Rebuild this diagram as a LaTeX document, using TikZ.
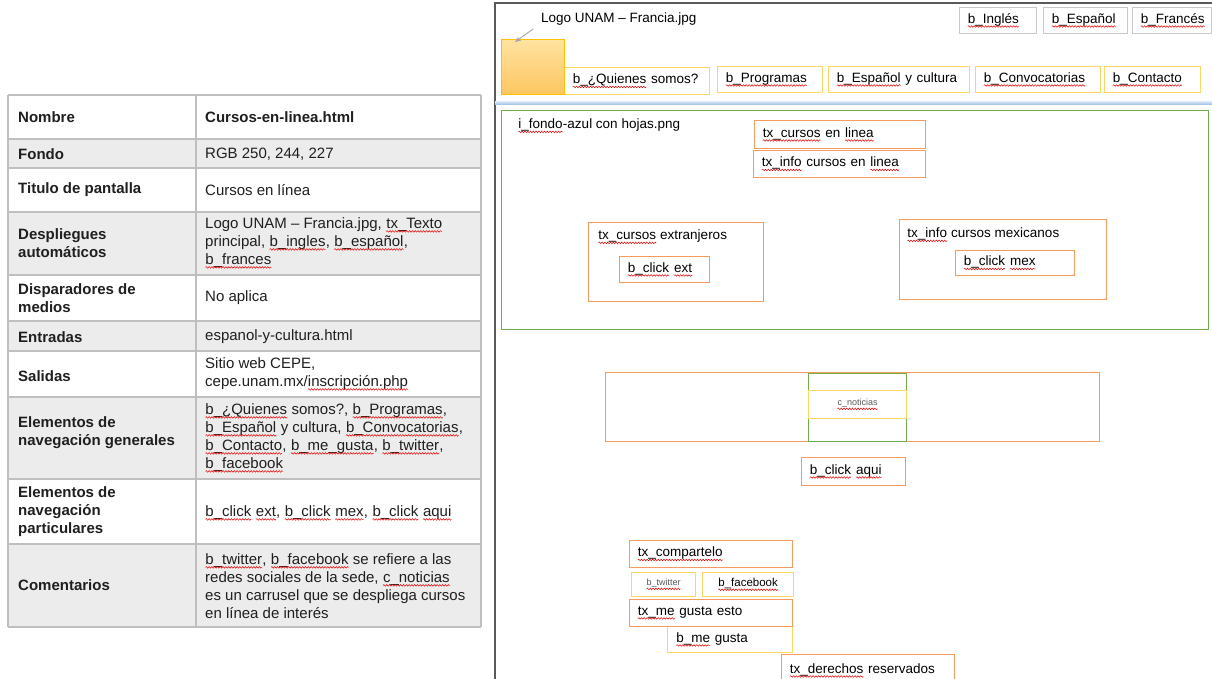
\documentclass[tikz,border=0pt]{standalone}
\usepackage{fontspec}
\setmainfont{Liberation Sans}
\usetikzlibrary{arrows.meta,calc,decorations.pathmorphing}
\newcommand\sq[1]{\tikz[baseline=(sqw.base)]{\node[draw=none, fill=none, text width={}, minimum width=0pt, minimum height=0pt, inner sep=0pt, outer sep=0pt, anchor=base west] (sqw) at (0,0) {#1};\draw[red!90!black, line width=0.5pt, decorate, decoration={snake, amplitude=0.8pt, segment length=2.8pt}] ([yshift=-3pt]sqw.base west) -- ([yshift=-3pt]sqw.base east);}}
\definecolor{boxgray}{RGB}{200,200,200}
\definecolor{boxyel}{RGB}{255,214,100}
\definecolor{boxor}{RGB}{245,155,95}
\definecolor{grn}{RGB}{112,173,71}
\definecolor{bluel}{RGB}{157,195,230}
\definecolor{framec}{RGB}{89,89,89}
\definecolor{tfill}{RGB}{236,236,236}
\definecolor{tline}{RGB}{191,191,191}
\definecolor{logotop}{RGB}{255,226,160}
\definecolor{logobot}{RGB}{252,198,96}
\definecolor{logoedge}{RGB}{255,192,0}
\tikzset{
 tbl/.style={font={\fontsize{15}{18}\selectfont}, text=black!88, align=left, anchor=west, inner sep=0pt},
 tblh/.style={tbl, font={\fontsize{15}{18}\selectfont\bfseries}},
 box/.style={anchor=north west, inner ysep=0pt, inner xsep=8pt, align=left, font={\fontsize{13.5}{16}\selectfont}, line width=1.2pt},
 gbox/.style={box, draw=boxgray},
 ybox/.style={box, draw=boxyel},
 obox/.style={box, draw=boxor},
 grbox/.style={box, draw=grn},
 lbl/.style={anchor=west, inner sep=0pt, font={\fontsize{13.5}{16}\selectfont}},
 tinyt/.style={font={\fontsize{9}{10}\selectfont}, text=black!65, align=center},
}
\begin{document}
\begin{tikzpicture}[x=1pt,y=-1pt]
\useasboundingbox (0,0) rectangle (1212,679);
\fill[white] (0,0) rectangle (1212,679);
% ---------- table ----------
\foreach \ya/\yb in {139/168,212/275,321/351,397/479,544/627}
  \fill[tfill] (8,\ya) rectangle (481,\yb);
\foreach \yy in {95,139,168,212,275,321,351,397,479,544,627}
  \draw[tline, line width=1.6pt] (8,\yy) -- (481,\yy);
\foreach \xx in {8,196,481}
  \draw[tline, line width=1.6pt] (\xx,95) -- (\xx,627);
\node[tblh] (l1) at (18,117) {Nombre};
\node[tblh] (r1) at (205,117) {Cursos-en-linea.html};
\node[tblh] (l2) at (18,154) {Fondo};
\node[tbl] (r2) at (205,154) {RGB 250, 244, 227};
\node[tblh] (l3) at (18,190) {Titulo de pantalla};
\node[tbl] (r3) at (205,190) {Cursos en línea};
\node[tblh] (l4) at (18,243) {Despliegues\\automáticos};
\node[tbl] (r4) at (205,243) {Logo UNAM – Francia.jpg, \sq{tx\_Texto}\\principal, \sq{b\_ingles}, \sq{b\_español},\\\sq{b\_frances}};
\node[tblh] (l5) at (18,298) {Disparadores de\\medios};
\node[tbl] (r5) at (205,298) {No aplica};
\node[tblh] (l6) at (18,337) {Entradas};
\node[tbl] (r6) at (205,337) {espanol-y-cultura.html};
\node[tblh] (l7) at (18,376) {Salidas};
\node[tbl] (r7) at (205,374) {Sitio web CEPE,\\cepe.unam.mx/\sq{inscripción.php}};
\node[tblh] (l8) at (18,433) {Elementos de\\navegación generales};
\node[tbl] (r8) at (205,438) {\sq{b\_¿Quienes} somos?, \sq{b\_Programas},\\\sq{b\_Español} y cultura, \sq{b\_Convocatorias},\\\sq{b\_Contacto}, \sq{b\_me\_gusta}, \sq{b\_twitter},\\\sq{b\_facebook}};
\node[tblh] (l9) at (18,512) {Elementos de\\navegación\\particulares};
\node[tbl] (r9) at (205,513) {\sq{b\_click} \sq{ext}, \sq{b\_click} \sq{mex}, \sq{b\_click} \sq{aqui}};
\node[tblh] (l10) at (18,585) {Comentarios};
\node[tbl] (r10) at (205,586) {\sq{b\_twitter}, \sq{b\_facebook} se refiere a las\\redes sociales de la sede, \sq{c\_noticias}\\es un carrusel que se despliega cursos\\en línea de interés};
% ---------- right panel ----------
\draw[framec, line width=1.3pt] (495,750) -- (495,3) -- (1260,3);
\shade[top color=bluel!40, bottom color=bluel] (495,101.5) rectangle (1212,104.5);
% header
\node[gbox, text width=61pt, minimum height=26pt] (bingles) at (959,7) {\sq{b\_Inglés}};
\node[gbox, text width=68pt, minimum height=26pt] (bespanol) at (1043,7) {\sq{b\_Español}};
\node[gbox, text width=63pt, minimum height=26pt] (bfrances) at (1132,7) {\sq{b\_Francés}};
\node[lbl] (logolbl) at (541,19) {Logo UNAM – Francia.jpg};
\node[ybox, text width=129pt, minimum height=27pt] (bquienes) at (564,67) {\sq{b\_¿Quienes} somos?};
\node[anchor=north west, minimum width=63pt, minimum height=55pt, inner sep=0pt, draw=logoedge, line width=1.2pt, top color=logotop, bottom color=logobot] (logo) at (501,39) {};
\coordinate (arrs) at (533,29);
\draw[black!35, line width=0.9pt, -{Stealth[length=6pt,width=5pt]}] (arrs) -- ($(logo.north west)+(14,3)$);
\node[ybox, text width=89pt, minimum height=26pt] (bprog) at (717,66) {\sq{b\_Programas}};
\node[ybox, text width=125pt, minimum height=26pt] (besp) at (828,66) {\sq{b\_Español} y cultura};
\node[ybox, text width=109pt, minimum height=26pt] (bconv) at (975,66) {\sq{b\_Convocatorias}};
\node[ybox, text width=80pt, minimum height=26pt] (bcont) at (1104,66) {\sq{b\_Contacto}};
% green area
\node[grbox, minimum width=707pt, minimum height=219pt, inner sep=0pt] (area) at (501,110) {};
\node[lbl] (ifondo) at (518,126) {\sq{i\_fondo}-azul con hojas.png};
\node[obox, text width=155pt, minimum height=28pt] (txcursos) at (754,120) {\sq{tx\_cursos} en \sq{linea}};
\node[obox, text width=156pt, minimum height=27pt] (txinfo) at (753,150) {\sq{tx\_info} cursos en \sq{linea}};
\node[obox, minimum width=175pt, minimum height=79pt, inner sep=0pt] (txext) at (588,222) {};
\node[lbl] (txextl) at (598,237) {\sq{tx\_cursos} extranjeros};
\node[obox, text width=74pt, minimum height=26pt] (bclickext) at (619,256) {\sq{b\_click} \sq{ext}};
\node[obox, minimum width=207pt, minimum height=80pt, inner sep=0pt] (txmex) at (899,219) {};
\node[lbl] (txmexl) at (907,235) {\sq{tx\_info} cursos mexicanos};
\node[obox, text width=103pt, minimum height=25pt] (bclickmex) at (955,250) {\sq{b\_click} \sq{mex}};
% carousel
\node[obox, minimum width=494pt, minimum height=69pt, inner sep=0pt] (carr) at (605,372) {};
\node[grbox, minimum width=98pt, minimum height=68pt, inner sep=0pt] (carrin) at (808,373) {};
\node[ybox, minimum width=98pt, minimum height=28pt, inner sep=0pt, tinyt] (cnot) at (808,390) {\sq{c\_noticias}};
\node[obox, text width=88pt, minimum height=28pt] (bclickaqui) at (801,457) {\sq{b\_click} \sq{aqui}};
% bottom
\node[obox, text width=147pt, minimum height=27pt] (txcomp) at (629,540) {\sq{tx\_compartelo}};
\node[ybox, minimum width=64pt, minimum height=24pt, inner sep=0pt, tinyt] (btw) at (631,572) {\sq{b\_twitter}};
\node[ybox, minimum width=91pt, minimum height=24pt, inner sep=0pt, align=center, font={\fontsize{11.5}{13}\selectfont}] (bfb) at (702,572) {\sq{b\_facebook}};
\node[ybox, text width=108pt, inner xsep=8.5pt, minimum height=26pt] (bmeg) at (667,626) {\sq{b\_me} gusta};
\node[obox, text width=147pt, minimum height=27pt] (txmeg) at (629,599) {\sq{tx\_me} gusta esto};
\node[obox, text width=157pt, minimum height=32pt] (txder) at (781,654) {\sq{tx\_derechos} reservados};
\end{tikzpicture}
\end{document}
